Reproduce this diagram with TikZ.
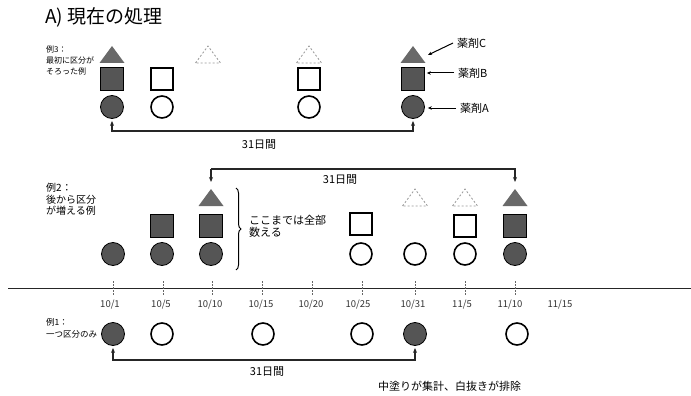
\documentclass[tikz,border=0pt]{standalone}
\usepackage{fontspec}
\setmainfont{Noto Sans CJK JP}
\usetikzlibrary{arrows.meta,decorations.pathreplacing,calc}
\definecolor{fillc}{RGB}{85,85,85}
\definecolor{fillt}{RGB}{105,105,105}
\definecolor{dtc}{RGB}{150,150,150}
\begin{document}
\begin{tikzpicture}[x=1pt,y=-1pt,
  fc/.style={circle,draw=black,fill=fillc,minimum size=23pt,inner sep=0pt,line width=0.8pt},
  oc/.style={circle,draw=black,fill=white,minimum size=22pt,inner sep=0pt,line width=1.6pt},
  fs/.style={rectangle,draw=black,fill=fillc,minimum size=23pt,inner sep=0pt,line width=0.8pt},
  os/.style={rectangle,draw=black,fill=white,minimum size=22pt,inner sep=0pt,line width=1.8pt},
  ftri/.pic={\fill[fillt] (-12.5,8) -- (0,-9) -- (12.5,8) -- cycle;},
  dtri/.pic={\draw[dtc,line width=0.8pt,dash pattern=on 2pt off 2pt] (-12.5,8) -- (0,-9) -- (12.5,8) -- cycle;},
  conn/.style={line width=1.2pt,draw=black!85,{Stealth[length=5pt,width=4pt]}-{Stealth[length=5pt,width=4pt]}},
  lab/.style={align=left,anchor=north west,inner sep=0pt},
  txt/.style={font=\fontsize{11}{12}\selectfont,inner sep=0pt},
  date/.style={font=\fontsize{9.5}{10}\selectfont,inner sep=0pt,text=black!80},
  tick/.style={draw=black!60,line width=0.5pt,dash pattern=on 1.5pt off 1.5pt},
  pointer/.style={line width=1pt,-{Stealth[length=4pt,width=3.5pt]}}
]
\useasboundingbox (0,0) rectangle (691,396);

% title
\node[anchor=west,inner sep=0pt,font=\fontsize{19}{22}\selectfont] (title) at (45,17) {A) 現在の処理};

% ---- row 1 (example 3)
\node[lab,font=\fontsize{8}{11}\selectfont] (l3) at (46,46) {例3：\\最初に区分が\\そろった例};
\pic at (112,55) {ftri};
\node[fs] (r1as) at (112,79) {};
\node[fc] (r1a) at (112,107) {};
\node[os] (r1bs) at (162,79) {};
\node[oc] (r1b) at (162,107) {};
\pic at (208,55) {dtri};
\pic at (309,55) {dtri};
\node[os] (r1ds) at (309,79) {};
\node[oc] (r1d) at (309,107) {};
\pic at (413,55) {ftri};
\coordinate (r1et) at (428,55);
\node[fs] (r1es) at (413,79) {};
\node[fc] (r1e) at (413,107) {};
\node[txt,anchor=west] (labC) at (457,43) {薬剤C};
\node[txt,anchor=west] (labB) at (458,73) {薬剤B};
\node[txt,anchor=west] (labA) at (460,108) {薬剤A};
\draw[pointer] ([xshift=-4pt]labC.west) -- (r1et);
\draw[pointer] ([xshift=-4pt]labB.west) -- ([xshift=2pt]r1es.east |- labB.west);
\draw[pointer] ([xshift=-4pt]labA.west) -- ([xshift=3pt]r1e.east |- labA.west);
\coordinate (line1) at (0,131);
\draw[conn] ([yshift=-2pt]r1a.south) -- (r1a.south |- line1) -- (r1e.south |- line1) -- ([yshift=-2pt]r1e.south);
\node[txt] (d1) at (259,145) {31日間};

% ---- row 2 (example 2)
\node[lab,font=\fontsize{10}{11.5}\selectfont] (l2) at (46,183) {例2：\\後から区分\\が増える例};
\node[fc] (r2a) at (113,254) {};
\node[fs] (r2bs) at (162,226) {};
\node[fc] (r2b) at (162,254) {};
\pic at (211,198) {ftri};
\coordinate (r2ct) at (211,182);
\node[fs] (r2cs) at (211,226) {};
\node[fc] (r2c) at (211,254) {};
\draw[decorate,decoration={brace,amplitude=5pt},line width=1pt] (236,188) -- (236,270);
\node[txt,anchor=north west,align=left,font=\fontsize{11}{12}\selectfont] (all) at (249,215) {ここまでは全部\\数える};
\node[os] (r2fs) at (361,224) {};
\node[oc] (r2f) at (361,254) {};
\pic at (415,198) {dtri};
\node[oc] (r2g) at (415,254) {};
\pic at (465,198) {dtri};
\node[os] (r2hs) at (465,226) {};
\node[oc] (r2h) at (465,254) {};
\pic at (515,198) {ftri};
\coordinate (r2it) at (515,182);
\node[fs] (r2is) at (515,226) {};
\node[fc] (r2i) at (515,254) {};
\coordinate (line2) at (0,169);
\draw[line width=1.2pt,draw=black!85,-{Stealth[length=5pt,width=4pt]}] (r2ct |- line2) -- (r2it |- line2) -- (r2it);
\draw[line width=1.2pt,draw=black!85,-{Stealth[length=5pt,width=4pt]}] (r2ct |- line2) -- (r2ct);
\node[txt] (d2) at (340,180) {31日間};

% ---- timeline
\coordinate (tl0) at (8,288);
\coordinate (tl1) at (691,288);
\draw[line width=1pt,black!85] (tl0) -- (tl1);
\foreach \x in {113,163,212,262,312,362,415,465,515}{
  \draw[tick] (\x,281) -- (\x,296);
}
\node[date] (t1) at (110,305) {10/1};
\node[date] (t2) at (161,305) {10/5};
\node[date] (t3) at (210,305) {10/10};
\node[date] (t4) at (261,305) {10/15};
\node[date] (t5) at (311,305) {10/20};
\node[date] (t6) at (358,305) {10/25};
\node[date] (t7) at (413,305) {10/31};
\node[date] (t8) at (462,305) {11/5};
\node[date] (t9) at (510,305) {11/10};
\node[date] (t10) at (560,305) {11/15};

% ---- row 3 (example 1)
\node[lab,font=\fontsize{8.5}{12}\selectfont] (l1) at (46,318) {例1：\\一つ区分のみ};
\node[fc] (r3a) at (113,334) {};
\node[oc] (r3b) at (162,334) {};
\node[oc] (r3c) at (263,334) {};
\node[oc] (r3d) at (362,334) {};
\node[fc] (r3e) at (415,334) {};
\node[oc] (r3f) at (517,334) {};
\coordinate (line3) at (0,360);
\draw[conn] ([yshift=-2pt]r3a.south) -- (r3a.south |- line3) -- (r3e.south |- line3) -- ([yshift=-2pt]r3e.south);
\node[txt] (d3) at (267,372) {31日間};
\node[txt,anchor=west] (cap) at (378,386) {中塗りが集計、白抜きが排除};
\end{tikzpicture}
\end{document}
